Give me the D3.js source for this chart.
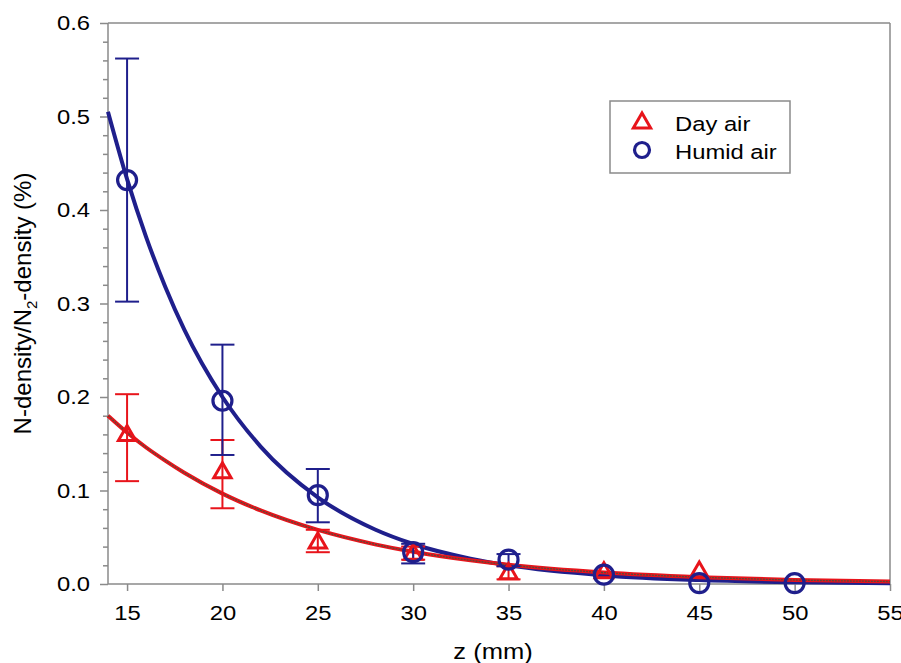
<!DOCTYPE html>
<html><head><meta charset="utf-8">
<script src="https://cdn.jsdelivr.net/npm/d3@7/dist/d3.min.js"></script>
<style>body{margin:0;background:#fff}svg{display:block;font-family:"Liberation Sans",Arial,sans-serif}</style>
</head><body><svg id="c" width="901" height="663"></svg>
<script>
// ---- data ----
const zValues = [15, 20, 25, 30, 35, 40, 45];
const dayAir = [0.160, 0.120, 0.045, 0.033, 0.012, 0.013, 0.014];
const dayAirLow = [0.110, 0.081, 0.034, 0.026, 0.005, 0.013, 0.014];
const dayAirHigh = [0.203, 0.154, 0.058, 0.040, 0.019, 0.013, 0.014];
const zHumid = [15, 20, 25, 30, 35, 40, 45, 50];
const humidAir = [0.432, 0.196, 0.095, 0.034, 0.026, 0.010, 0.001, 0.001];
const humidLow = [0.302, 0.138, 0.066, 0.022, 0.019, 0.010, 0.001, 0.001];
const humidHigh = [0.562, 0.256, 0.123, 0.043, 0.032, 0.010, 0.001, 0.001];
// fitted curves
const fitZ = [14, 15, 16, 17, 18, 20, 22, 25, 28, 30, 33, 35, 40, 45, 50, 55];
const fitHumid = [0.505, 0.433, 0.371, 0.318, 0.272, 0.200, 0.147, 0.0927, 0.0583, 0.0428, 0.0271, 0.0199, 0.0092, 0.0042, 0.0019, 0.0009];
const fitDay = [0.180, 0.162, 0.146, 0.132, 0.119, 0.0967, 0.0787, 0.0578, 0.0424, 0.0344, 0.0253, 0.0205, 0.0122, 0.0073, 0.0043, 0.0026];
const xTicks = [15, 20, 25, 30, 35, 40, 45, 50, 55];
const yTicks = [0.0, 0.1, 0.2, 0.3, 0.4, 0.5, 0.6];
const legendLabels = ["Day air", "Humid air"];

const BLUE = "#1f1f8c", RED = "#e8141b", AXIS = "#8a8a8a";
const FS = 20.5, WIDEN = 1.16;
const svg = d3.select("#c");
const L = 108, R = 890, T = 23, B = 584;
const x = d3.scaleLinear().domain([14, 55]).range([L, R]);
const y = d3.scaleLinear().domain([0, 0.6]).range([B, T]);

function widen(sel, k) {
  sel.each(function () {
    const w = this.getComputedTextLength();
    this.setAttribute("textLength", w * k);
    this.setAttribute("lengthAdjust", "spacingAndGlyphs");
  });
}

// frame
svg.append("line").attr("x1", L).attr("x2", R).attr("y1", T).attr("y2", T).attr("stroke", AXIS).attr("stroke-width", 1.5);
svg.append("line").attr("x1", R).attr("x2", R).attr("y1", T).attr("y2", B).attr("stroke", AXIS).attr("stroke-width", 1.5);

// y axis
const yMinor = d3.range(0, 0.6001, 0.02).filter(v => Math.abs(Math.round(v * 10) - v * 10) > 1e-6);
const yAxisMinor = d3.axisLeft(y).tickValues(yMinor).tickSize(5).tickFormat("");
svg.append("g").attr("transform", `translate(${L},0)`).call(yAxisMinor)
  .call(g => g.select(".domain").remove()).selectAll("line").attr("stroke", AXIS).attr("stroke-width", 1.5);
const yAxis = d3.axisLeft(y).tickValues(yTicks).tickSize(8).tickPadding(10).tickFormat(d3.format(".1f"));
const gy = svg.append("g").attr("transform", `translate(${L},0)`).call(yAxis);
gy.select(".domain").attr("stroke", AXIS).attr("stroke-width", 1.5).attr("d", `M0,${T}V${B}`);
gy.selectAll("line").attr("stroke", AXIS).attr("stroke-width", 1.5);
gy.selectAll("text").attr("font-size", FS).attr("fill", "#000").attr("font-family", "Liberation Sans, Arial, sans-serif").call(widen, WIDEN);

// x axis
const xAxis = d3.axisBottom(x).tickValues(xTicks).tickSize(7).tickPadding(14).tickFormat(d3.format("d"));
const gx = svg.append("g").attr("transform", `translate(0,${B})`).call(xAxis);
gx.select(".domain").attr("stroke", AXIS).attr("stroke-width", 1.5).attr("d", `M${L},0H${R}`);
gx.selectAll("line").attr("stroke", AXIS).attr("stroke-width", 1.5);
gx.selectAll("text").attr("font-size", FS).attr("fill", "#000").attr("font-family", "Liberation Sans, Arial, sans-serif").call(widen, WIDEN);

// axis titles
svg.append("text").attr("x", 493).attr("y", 659).attr("text-anchor", "middle")
  .attr("font-size", 22).text("z (mm)").call(widen, WIDEN);
const yl = svg.append("text").attr("transform", `translate(31,${(T + B) / 2}) rotate(-90)`)
  .attr("text-anchor", "middle").attr("font-size", 24);
yl.append("tspan").text("N-density/N");
yl.append("tspan").attr("font-size", 15).attr("dy", 6).text("2");
yl.append("tspan").attr("dy", -6).text("-density (%)");

// fit curves
const line = d3.line().x((d, i) => x(fitZ[i])).y(d => y(d)).curve(d3.curveMonotoneX);
svg.append("path").attr("d", line(fitHumid)).attr("fill", "none").attr("stroke", BLUE).attr("stroke-width", 4);
svg.append("path").attr("d", line(fitDay)).attr("fill", "none").attr("stroke", RED).attr("stroke-width", 4);
svg.append("path").attr("d", line(fitDay)).attr("fill", "none").attr("stroke", "#5a4a3a").attr("stroke-width", 1.3).attr("stroke-dasharray", "2,1");

// error bars
function errBars(zs, lo, hi, color) {
  const g = svg.append("g").attr("stroke", color).attr("stroke-width", 2).attr("fill", "none");
  zs.forEach((z, i) => {
    if (hi[i] - lo[i] < 0.001) return;
    const cx = x(z);
    g.append("line").attr("x1", cx).attr("x2", cx).attr("y1", y(lo[i])).attr("y2", y(hi[i]));
    g.append("line").attr("x1", cx - 12).attr("x2", cx + 12).attr("y1", y(lo[i])).attr("y2", y(lo[i]));
    g.append("line").attr("x1", cx - 12).attr("x2", cx + 12).attr("y1", y(hi[i])).attr("y2", y(hi[i]));
  });
}
errBars(zValues, dayAirLow, dayAirHigh, RED);
errBars(zHumid, humidLow, humidHigh, BLUE);

// markers
const tri = d3.symbol().type(d3.symbolTriangle).size(130);
svg.append("g").selectAll("path").data(dayAir).join("path")
  .attr("d", tri).attr("transform", (d, i) => `translate(${x(zValues[i])},${y(d) + 1})`)
  .attr("fill", "none").attr("stroke", RED).attr("stroke-width", 3);
svg.append("g").selectAll("circle").data(humidAir).join("circle")
  .attr("cx", (d, i) => x(zHumid[i])).attr("cy", d => y(d)).attr("r", 9.5)
  .attr("fill", "none").attr("stroke", BLUE).attr("stroke-width", 3.2);

// legend
const lg = svg.append("g");
lg.append("rect").attr("x", 610).attr("y", 101).attr("width", 180).attr("height", 72)
  .attr("fill", "#fff").attr("stroke", AXIS).attr("stroke-width", 1.5);
lg.append("path").attr("d", tri).attr("transform", "translate(642,123)")
  .attr("fill", "none").attr("stroke", RED).attr("stroke-width", 3);
lg.append("circle").attr("cx", 642).attr("cy", 150).attr("r", 7.5)
  .attr("fill", "none").attr("stroke", BLUE).attr("stroke-width", 3.2);
legendLabels.forEach((t, i) => {
  lg.append("text").attr("x", 675).attr("y", 131 + i * 28).attr("font-size", FS).text(t).call(widen, WIDEN);
});
</script></body></html>
